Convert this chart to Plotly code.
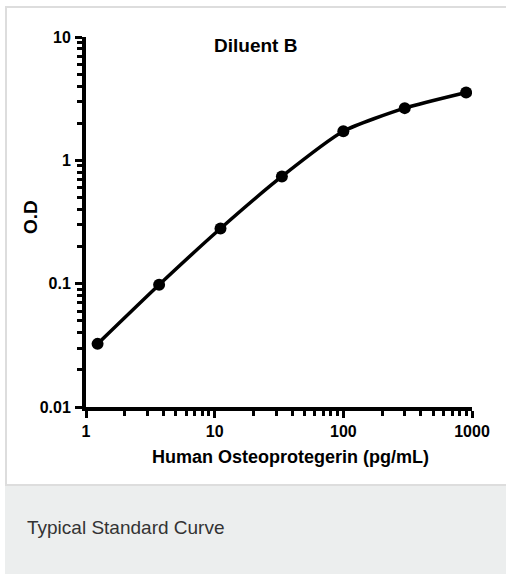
import plotly.graph_objects as go

conc = [1.23, 3.7, 11.1, 33.3, 100, 300, 900]
od = [0.0325, 0.098, 0.28, 0.74, 1.72, 2.65, 3.55]

x_ticks = [1, 10, 100, 1000]
x_tick_labels = ["1", "10", "100", "1000"]
x_minor = [m * d for d in (1, 10, 100) for m in range(2, 10)]
y_ticks = [0.01, 0.1, 1, 10]
y_tick_labels = ["0.01", "0.1", "1", "10"]
y_minor = [m * d for d in (0.01, 0.1, 1) for m in range(2, 10)]

title_text = "Diluent B"
x_title = "Human Osteoprotegerin (pg/mL)"
y_title = "O.D"
caption = "Typical Standard Curve"

W, H = 506, 574
L, R, T, B = 86, 34, 37, 167
pw, ph = W - L - R, H - T - B


def px(p):
    return (p - L) / pw


def py(p):
    return (H - B - p) / ph


BOLD = "Liberation Sans, Arial, sans-serif"

fig = go.Figure()
fig.add_trace(go.Scatter(
    x=conc, y=od, mode="lines+markers",
    line=dict(color="black", width=3.5, shape="spline", smoothing=0.6),
    marker=dict(color="black", size=12),
    showlegend=False,
))

shapes = [
    dict(type="rect", xref="paper", yref="paper",
         x0=px(5), x1=px(507), y0=py(575), y1=py(485),
         fillcolor="#eceeee", line=dict(width=0), layer="below"),
    dict(type="line", xref="paper", yref="paper",
         x0=px(5), x1=px(507), y0=py(7), y1=py(7),
         line=dict(color="#dddddd", width=2), layer="below"),
    dict(type="line", xref="paper", yref="paper",
         x0=px(6), x1=px(6), y0=py(6), y1=py(486),
         line=dict(color="#dddddd", width=2), layer="below"),
    dict(type="line", xref="paper", yref="paper",
         x0=px(5), x1=px(507), y0=py(485), y1=py(485),
         line=dict(color="#dddddd", width=2), layer="below"),
]

annotations = [
    dict(text=f"<b>{title_text}</b>", xref="paper", yref="paper",
         x=px(255), y=py(46), xanchor="center", yanchor="middle",
         showarrow=False, font=dict(family=BOLD, size=19, color="black")),
    dict(text=f"<b>{x_title}</b>", xref="paper", yref="paper",
         x=px(290), y=py(457), xanchor="center", yanchor="middle",
         showarrow=False, font=dict(family=BOLD, size=18, color="black")),
    dict(text=f"<b>{y_title}</b>", xref="paper", yref="paper",
         x=px(30), y=py(217), xanchor="center", yanchor="middle", textangle=-90,
         showarrow=False, font=dict(family=BOLD, size=19, color="black")),
    dict(text=caption, xref="paper", yref="paper",
         x=px(25), y=py(527), xanchor="left", yanchor="middle",
         showarrow=False, font=dict(family=BOLD, size=19, color="#333333")),
]

fig.update_layout(
    width=W, height=H,
    margin=dict(l=L, r=R, t=T, b=B, pad=0),
    paper_bgcolor="white", plot_bgcolor="white",
    shapes=shapes, annotations=annotations,
    font=dict(family=BOLD, color="black"),
)

axis_common = dict(
    type="log",
    tickfont=dict(family=BOLD, size=16, color="black"),
    ticks="outside", ticklen=7, tickwidth=2.5, tickcolor="black",
    showline=True, linecolor="black", linewidth=4,
    showgrid=False, zeroline=False,
)
minor_common = dict(tickmode="array", ticks="outside", ticklen=5,
                    tickwidth=2.5, tickcolor="black", showgrid=False)

fig.update_xaxes(
    range=[0, 3],
    tickvals=x_ticks, ticktext=[f"<b>{t}</b>" for t in x_tick_labels],
    minor=dict(tickvals=x_minor, **minor_common),
    ticklabelstandoff=0,
    **axis_common,
)
fig.update_yaxes(
    range=[-2, 1],
    tickvals=y_ticks, ticktext=[f"<b>{t}</b>" for t in y_tick_labels],
    minor=dict(tickvals=y_minor, **minor_common),
    ticklabelstandoff=1,
    **axis_common,
)

fig.write_html(
    "out.html",
    config={"displayModeBar": False},
    post_script="document.body.style.margin='0px';document.body.style.overflow='hidden';",
)
